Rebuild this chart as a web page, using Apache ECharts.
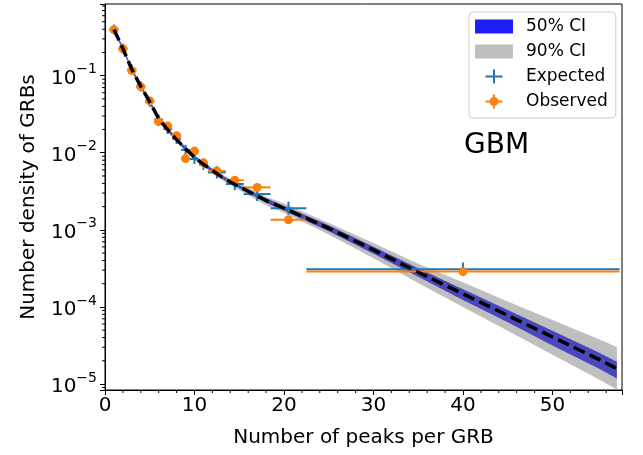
<!DOCTYPE html>
<html>
<head>
<meta charset="utf-8">
<script src="https://cdn.jsdelivr.net/npm/echarts@6/dist/echarts.min.js"></script>
<style>
html, body { margin: 0; padding: 0; background: #fff; }
#chart { width: 643px; height: 455px; }
</style>
</head>
<body>
<div id="chart"></div>
<script>
(function (echarts) {

    var FONT = "DejaVu Sans";

    // model curve (median) and credible bands
    var modelX = [1, 2, 3, 4, 5, 6, 7, 8, 9, 10, 11, 12, 13, 14, 16, 18, 20, 22, 25, 30, 35, 40, 45, 50, 55, 57.2];
    var modelMedian = [0.3981, 0.2239, 0.1202, 0.07244, 0.04571, 0.02754, 0.01995, 0.01479, 0.01122, 0.008710,
        0.007079, 0.005888, 0.004898, 0.004169, 0.003162, 0.002399, 0.001905, 0.001514,
        0.001047, 0.0005495, 0.0002818, 0.0001479, 7.762e-5, 4.074e-5, 2.138e-5, 1.585e-5];
    var ci90High = [0.4266, 0.2399, 0.1288, 0.07762, 0.04898, 0.02951, 0.02138, 0.01585, 0.01202, 0.009333,
        0.007586, 0.006310, 0.005370, 0.004571, 0.003548, 0.002692, 0.002188, 0.001738,
        0.001230, 0.0006761, 0.0003631, 0.0002089, 1.175e-4, 6.761e-5, 3.890e-5, 3.020e-5];
    var ci90Low = [0.3715, 0.2089, 0.1122, 0.06761, 0.04266, 0.02570, 0.01862, 0.01380, 0.01047, 0.008128,
        0.006607, 0.005495, 0.004467, 0.003802, 0.002818, 0.002089, 0.001660, 0.001288,
        0.0008710, 0.0004266, 0.0002042, 0.0001, 4.898e-5, 2.399e-5, 1.175e-5, 8.511e-6];
    var ci50High = [0.4169, 0.2344, 0.1259, 0.07586, 0.04786, 0.02884, 0.02089, 0.01549, 0.01175, 0.009120,
        0.007413, 0.006166, 0.005129, 0.004365, 0.003311, 0.002570, 0.002042, 0.001622,
        0.001148, 0.0006026, 0.0003162, 0.0001698, 9.120e-5, 4.898e-5, 2.630e-5, 1.950e-5];
    var ci50Low = [0.3802, 0.2138, 0.1148, 0.06918, 0.04365, 0.02630, 0.01905, 0.01413, 0.01072, 0.008318,
        0.006761, 0.005623, 0.004677, 0.003981, 0.003020, 0.002239, 0.001778, 0.001380,
        0.0009550, 0.0004898, 0.0002455, 0.0001230, 6.310e-5, 3.162e-5, 1.622e-5, 1.175e-5];

    // binned counts
    var binCenter = [1, 2, 3, 4, 5, 6, 7, 8, 9, 10, 11, 12.5, 14.5, 17, 20.5, 40];
    var binLow = [0.5, 1.5, 2.5, 3.5, 4.5, 5.5, 6.5, 7.5, 8.5, 9.5, 10.5, 11.5, 13.5, 15.5, 18.5, 22.5];
    var binHigh = [1.5, 2.5, 3.5, 4.5, 5.5, 6.5, 7.5, 8.5, 9.5, 10.5, 11.5, 13.5, 15.5, 18.5, 22.5, 57.5];
    var expected = [0.398, 0.224, 0.120, 0.0724, 0.0457, 0.0269, 0.0203, 0.0151, 0.0109, 0.00828,
        0.00698, 0.00556, 0.00393, 0.00291, 0.00191, 0.000309];
    var expectedLow = [0.343, 0.193, 0.1034, 0.0624, 0.0394, 0.0232, 0.0175, 0.0130, 0.00939, 0.00713,
        0.00601, 0.00463, 0.00327, 0.00237, 0.00157, 0.000253];
    var expectedHigh = [0.462, 0.260, 0.1393, 0.0841, 0.0531, 0.0312, 0.0236, 0.0175, 0.01265, 0.00961,
        0.00810, 0.00668, 0.00472, 0.00358, 0.00233, 0.000377];
    var observed = [0.395, 0.224, 0.116, 0.072, 0.047, 0.0253, 0.0222, 0.0166, 0.0084, 0.0105,
        0.0074, 0.0058, 0.0044, 0.00355, 0.00135, 0.000287];

    // axes
    var xMin = 0, xMax = 57.77;
    var yMin = 8.36e-6, yMax = 0.85;
    var xMinorTicks = [2, 4, 6, 8, 12, 14, 16, 18, 22, 24, 26, 28, 32, 34, 36, 38, 42, 44, 46, 48, 52, 54, 56];
    var yMinorMantissa = [2, 3, 4, 5, 6, 7, 8, 9];
    var yDecades = [1e-6, 1e-5, 1e-4, 1e-3, 1e-2, 1e-1];

    var yMinorTicks = [];
    yDecades.forEach(function (d) {
        yMinorMantissa.forEach(function (m) {
            var v = m * d;
            if (v > yMin && v < yMax) yMinorTicks.push(v);
        });
    });

    function bandSeries(name, low, high, color) {
        return {
            name: name,
            type: "custom",
            silent: true,
            itemStyle: { color: color },
            data: [[modelX[0], modelMedian[0]]],
            encode: { x: 0, y: 1 },
            renderItem: function (params, api) {
                var pts = [];
                for (var i = 0; i < modelX.length; i++) pts.push(api.coord([modelX[i], high[i]]));
                for (var j = modelX.length - 1; j >= 0; j--) pts.push(api.coord([modelX[j], low[j]]));
                return { type: "polygon", shape: { points: pts }, style: { fill: color } };
            }
        };
    }

    function errSeries(name, ys, lo, hi, color) {
        var rows = binCenter.map(function (x, i) {
            return [x, ys[i], binLow[i], binHigh[i], lo ? lo[i] : ys[i], hi ? hi[i] : ys[i]];
        });
        return {
            name: name,
            type: "custom",
            silent: true,
            data: rows,
            encode: { x: 0, y: 1 },
            itemStyle: { color: color },
            renderItem: function (params, api) {
                var l = api.coord([api.value(2), api.value(1)]);
                var r = api.coord([api.value(3), api.value(1)]);
                var t = api.coord([api.value(0), api.value(5)]);
                var b = api.coord([api.value(0), api.value(4)]);
                var st = { stroke: color, lineWidth: 2 };
                return {
                    type: "group",
                    children: [
                        { type: "line", shape: { x1: l[0], y1: l[1], x2: r[0], y2: r[1] }, style: st },
                        { type: "line", shape: { x1: t[0], y1: t[1], x2: b[0], y2: b[1] }, style: st }
                    ]
                };
            }
        };
    }

    function tickSeries(rows, dx, dy) {
        return {
            type: "custom",
            silent: true,
            data: rows,
            encode: { x: 0, y: 1 },
            renderItem: function (params, api) {
                var c = api.coord([api.value(0), api.value(1)]);
                return {
                    type: "line",
                    shape: { x1: c[0], y1: c[1], x2: c[0] + dx, y2: c[1] + dy },
                    style: { stroke: "#000", lineWidth: 1 }
                };
            }
        };
    }

    var chart = echarts.init(document.getElementById("chart"), null, { renderer: "canvas" });

    var option = {
        animation: false,
        backgroundColor: "#fff",
        textStyle: { fontFamily: FONT },
        grid: {
            left: 105, right: 21, top: 4, bottom: 65,
            show: true, borderColor: "#000", borderWidth: 1,
            outerBoundsMode: "none"
        },
        legend: {
            orient: "vertical",
            left: 469, top: 12,
            padding: [6, 8, 8, 6],
            itemGap: 8,
            itemWidth: 38, itemHeight: 14,
            backgroundColor: "rgba(255,255,255,0.8)",
            borderColor: "#cccccc", borderWidth: 1, borderRadius: 4,
            selectedMode: false,
            textStyle: { fontFamily: FONT, fontSize: 17, color: "#000", padding: [0, 0, 0, 8], lineHeight: 14 },
            data: [
                { name: "50% CI", icon: "rect", itemStyle: { color: "#1e1ef8" } },
                { name: "90% CI", icon: "rect", itemStyle: { color: "#bfbfbf" } },
                { name: "Expected", icon: "path://M0,6h17v2H0z M7.5,0h2v14h-2z", itemStyle: { color: "#1f77b4" } },
                { name: "Observed", icon: "path://M0,6h17v2H0z M7.5,0h2v14h-2z M4,7a4.5,4.5 0 1,1 9,0a4.5,4.5 0 1,1 -9,0z", itemStyle: { color: "#ff7f0e" } }
            ]
        },
        graphic: [{
            type: "text", left: 464, top: 132,
            style: { text: "GBM", fontSize: 28, fontFamily: FONT, fill: "#000" }
        }],
        xAxis: {
            type: "value",
            min: xMin, max: xMax, interval: 10,
            name: "Number of peaks per GRB",
            nameLocation: "middle", nameGap: 38,
            nameTextStyle: { fontSize: 20, fontFamily: FONT, color: "#000" },
            axisLine: { show: true, lineStyle: { color: "#000", width: 1 } },
            axisTick: { show: true, length: 5, lineStyle: { color: "#000" } },
            splitLine: { show: false },
            axisLabel: {
                fontSize: 20, fontFamily: FONT, color: "#000", margin: 6,
                formatter: function (v) { return Math.abs(v % 10) < 1e-9 ? String(v) : ""; }
            }
        },
        yAxis: {
            type: "log", logBase: 10,
            min: yMin, max: yMax,
            name: "Number density of GRBs",
            nameLocation: "middle", nameGap: 66,
            nameTextStyle: { fontSize: 20, fontFamily: FONT, color: "#000" },
            axisLine: { show: true, lineStyle: { color: "#000", width: 1 } },
            axisTick: { show: true, length: 5, lineStyle: { color: "#000" } },
            minorTick: { show: false },
            splitLine: { show: false },
            axisLabel: {
                margin: 8,
                formatter: function (v) {
                    var e = Math.log10(v);
                    var r = Math.round(e);
                    if (Math.abs(e - r) > 1e-6) return "";
                    return "{b|10}{s|" + (r < 0 ? "\u2212" : "") + Math.abs(r) + "}";
                },
                rich: {
                    b: { fontSize: 20, fontFamily: FONT, color: "#000", verticalAlign: "bottom", lineHeight: 26 },
                    s: { fontSize: 14, fontFamily: FONT, color: "#000", verticalAlign: "top", lineHeight: 26 }
                }
            }
        },
        series: [
            bandSeries("90% CI", ci90Low, ci90High, "#bfbfbf"),
            bandSeries("50% CI", ci50Low, ci50High, "#4848bc"),
            {
                name: "median",
                type: "line",
                silent: true,
                showSymbol: false,
                data: modelX.map(function (x, i) { return [x, modelMedian[i]]; }),
                lineStyle: { color: "#000", width: 3.5, type: [12, 5.5] }
            },
            errSeries("Expected", expected, expectedLow, expectedHigh, "#1f77b4"),
            errSeries("Observed bars", observed, null, null, "#ff7f0e"),
            {
                name: "Observed",
                type: "scatter",
                silent: true,
                symbol: "circle",
                symbolSize: 9,
                itemStyle: { color: "#ff7f0e", opacity: 1 },
                data: binCenter.map(function (x, i) { return [x, observed[i]]; })
            },
            tickSeries(xMinorTicks.map(function (x) { return [x, yMin]; }), 0, 3),
            tickSeries(yMinorTicks.map(function (v) { return [xMin, v]; }), -3, 0)
        ]
    };

    chart.setOption(option);

})(echarts);
</script>
</body>
</html>
